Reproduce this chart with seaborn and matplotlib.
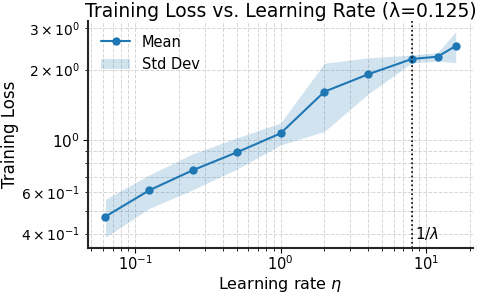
import numpy as np
import pandas as pd
import matplotlib
matplotlib.use("Agg")
import matplotlib.pyplot as plt
import seaborn as sns

# learning rates and measured loss
learning_rates = [0.0625, 0.125, 0.25, 0.5, 1.0, 2.0, 4.0, 8.0, 12.0, 16.0]
loss_mean = [0.473, 0.612, 0.746, 0.888, 1.07, 1.61, 1.91, 2.22, 2.27, 2.52]
loss_std = [0.087, 0.10, 0.13, 0.135, 0.115, 0.52, 0.335, 0.085, 0.095, 0.38]
lam = 0.125

df = pd.DataFrame({"lr": learning_rates, "mean": loss_mean, "std": loss_std})
lower = df["mean"] - df["std"]
upper = df["mean"] + df["std"]

sns.set_style("ticks")
plt.rcParams.update({
    "xtick.major.size": 3.5, "ytick.major.size": 3.5,
    "xtick.minor.size": 2, "ytick.minor.size": 2,
    "xtick.major.pad": 1.5, "ytick.major.pad": 2.5,
    "text.color": "black", "axes.labelcolor": "black",
    "xtick.color": "black", "ytick.color": "black",
})
color = "#1f77b4"

fig, ax = plt.subplots(figsize=(4.78, 2.94), dpi=100)
sns.lineplot(data=df, x="lr", y="mean", marker="o", markersize=6,
             markeredgewidth=0, color=color, linewidth=1.5, label="Mean", ax=ax)
ax.fill_between(df["lr"], lower, upper, color=color, alpha=0.2,
                linewidth=0, label="Std Dev")
ax.set_xscale("log")
ax.set_yscale("log")

ax.axvline(1 / lam, color="black", linestyle=":", linewidth=1.2)
ax.text(1 / lam * 1.05, 0.40, r"1/$\lambda$", fontsize=11, va="center")

ax.grid(True, which="both", linestyle="--", color="#cccccc", alpha=0.8, linewidth=0.7)
ax.set_title("Training Loss vs. Learning Rate (λ=0.125)", fontsize=13.5, pad=3)
ax.set_xlabel(r"Learning rate $\eta$", fontsize=11.5)
ax.xaxis.set_label_coords(0.5, -0.12)
ax.set_ylabel("Training Loss", fontsize=12, labelpad=2)
ax.tick_params(axis="y", labelsize=11)
ax.tick_params(axis="x", labelsize=10.5)
ax.legend(loc="upper left", frameon=False, fontsize=10.5)
sns.despine(ax=ax)
for s in ["left", "bottom"]:
    ax.spines[s].set_linewidth(1.5)
    ax.spines[s].set_color("#262626")

fig.subplots_adjust(left=0.184, right=0.99, bottom=0.158, top=0.927)
fig.savefig("out.png", dpi=100)
